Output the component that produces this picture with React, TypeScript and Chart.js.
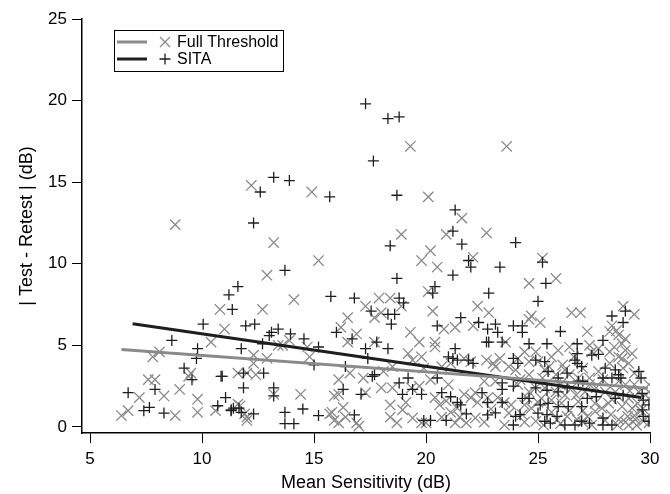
import React, { useEffect, useRef } from "react";
import { Chart, registerables } from "chart.js";

Chart.register(...registerables);

// Full Threshold: [mean sensitivity (dB), |test - retest| (dB)]
const fullThresholdPoints: number[][] = [
  [19.3, 17.2], [23.6, 17.2], [20.1, 14.1], [21.6, 12.8], [18.9, 11.8], [20.9, 11.8], [22.7, 11.9],
  [12.2, 14.8], [14.9, 14.4], [8.8, 12.4], [13.2, 11.3],
  [6.4, 0.7], [6.7, 1.0], [7.2, 1.8], [7.6, 2.9], [7.9, 2.9], [7.8, 4.3], [8.1, 4.6], [8.3, 1.9],
  [8.8, 0.7], [9.0, 2.3], [9.4, 3.1], [9.5, 3.3], [9.8, 1.7], [9.8, 0.9], [10.4, 5.2], [10.6, 1.0],
  [10.8, 7.2], [11.0, 6.0], [11.6, 3.3], [11.7, 1.3], [11.9, 0.8], [12.0, 0.4], [12.3, 4.4], [12.3, 3.9],
  [12.4, 3.2], [12.7, 7.2], [12.9, 4.2], [12.9, 9.3], [13.2, 2.0], [13.4, 5.0], [13.6, 5.0], [13.9, 5.3],
  [14.1, 7.8], [14.4, 2.0], [14.7, 4.9], [14.8, 4.3], [15.2, 10.2], [15.7, 0.8], [15.9, 0.4], [12.0, 3.3],
  [11.6, 1.4], [12.0, 0.6],
  [17.3, 7.4], [17.7, 6.7], [16.5, 6.7], [16.2, 6.1], [16.9, 5.7], [16.5, 5.2], [17.7, 5.2], [16.1, 2.9],
  [16.6, 3.3], [17.2, 3.0], [15.9, 1.9], [16.1, 2.0], [17.3, 2.1], [16.3, 1.2], [16.4, 0.6], [15.8, 0.9],
  [16.1, 0.25], [16.9, 0.25], [17.0, 0.05],
  [19.8, 10.2], [20.2, 10.8], [20.5, 9.8], [22.1, 10.4], [20.1, 8.3], [17.9, 7.9], [18.4, 7.9], [18.9, 7.4],
  [18.0, 7.0], [20.3, 7.1], [22.3, 7.4], [22.8, 7.0], [20.8, 6.0], [21.3, 6.1], [22.1, 6.2], [19.3, 5.8],
  [19.7, 5.2], [20.4, 5.2], [20.4, 4.9], [23.55, 5.2], [19.2, 4.5], [19.4, 4.1], [21.7, 4.2], [22.0, 4.0],
  [23.3, 4.2], [22.7, 4.1], [23.0, 3.9], [19.8, 4.3], [18.5, 3.7], [18.1, 3.4], [19.9, 3.6], [20.7, 3.7],
  [21.1, 3.9], [23.1, 3.7], [23.7, 3.7], [24.0, 3.5], [18.0, 2.4], [18.5, 2.4], [19.35, 2.4], [19.7, 2.5],
  [18.4, 1.35], [19.1, 1.5], [18.95, 1.05], [20.4, 1.8], [20.6, 1.35], [21.1, 0.9], [21.5, 0.6], [21.4, 1.15],
  [18.4, 0.6], [18.7, 0.25], [19.4, 0.55], [19.8, 0.25], [20.0, 0.25], [20.7, 0.6], [21.3, 0.25], [22.0, 1.8],
  [22.3, 1.5], [21.7, 2.0], [22.2, 2.1], [22.6, 2.8], [23.1, 2.8], [22.75, 1.8], [23.2, 1.8], [23.5, 1.5],
  [23.8, 1.35], [23.7, 0.85], [22.2, 0.55], [21.8, 0.25], [22.6, 0.3], [23.5, 0.12],
  [25.2, 10.35], [24.6, 8.8], [25.8, 9.1], [24.7, 6.8], [25.1, 6.4], [24.6, 6.6], [26.5, 7.0], [26.9, 7.0],
  [27.2, 5.85], [28.8, 7.4], [29.3, 6.9], [28.2, 5.85], [28.6, 5.65], [28.75, 5.1], [24.4, 4.6], [24.9, 4.6],
  [25.9, 4.7], [26.4, 4.9], [27.3, 5.0], [27.4, 4.6], [27.7, 4.8], [28.75, 4.2], [29.05, 3.9], [28.2, 4.6],
  [24.1, 4.2], [24.6, 4.0], [25.0, 4.0], [25.5, 3.7], [26.1, 3.8], [26.2, 3.5], [27.7, 3.4], [27.3, 3.0],
  [26.8, 3.0], [26.4, 3.2], [25.8, 3.2], [25.2, 3.0], [29.95, 2.6], [29.95, 2.15], [29.95, 1.75], [28.9, 2.6],
  [29.3, 2.6], [29.5, 2.15],
  [24.1, 2.6], [24.6, 2.15], [24.9, 2.4], [25.3, 2.4], [25.8, 2.15], [26.2, 1.95], [26.7, 1.95], [27.1, 2.15],
  [27.6, 2.4], [28.0, 2.15], [28.45, 2.15], [24.3, 0.75], [24.9, 0.35], [25.25, 0.12], [25.85, 0.45],
  [26.3, 0.65], [26.75, 0.45], [27.2, 0.65], [27.55, 0.95], [27.85, 1.15], [28.25, 0.75], [28.6, 0.45],
  [29.0, 0.65], [29.05, 0.12], [29.35, 0.45], [29.7, 0.35], [29.95, 0.75], [29.95, 0.25], [27.4, 0.12],
  [28.55, 0.12], [24.7, 1.15], [24.4, 1.35], [26.05, 1.45], [26.8, 1.55], [27.55, 1.45], [28.15, 1.45],
  [28.75, 1.25], [29.2, 1.15], [29.45, 1.45], [29.05, 1.75], [28.6, 1.85], [25.15, 1.75], [25.6, 1.65],
  [28.3, 6.2], [28.5, 5.9], [28.9, 5.4], [28.4, 4.9], [28.9, 4.7], [28.6, 4.3], [29.2, 4.5], [28.2, 3.9],
  [28.8, 3.6], [29.3, 3.3], [27.9, 2.9], [28.6, 2.8], [29.1, 2.2], [28.3, 1.7], [29.6, 1.0], [29.3, 0.7],
  [27.0, 3.6], [26.6, 4.3], [25.6, 4.3], [25.3, 3.5], [24.6, 3.2], [24.2, 2.9], [26.0, 2.6], [26.5, 2.4],
  [27.3, 2.6], [24.5, 1.8], [25.0, 1.5], [26.4, 1.0], [27.0, 1.0], [25.6, 0.9], [24.4, 0.3], [26.0, 0.2],
  [27.0, 0.3], [28.0, 0.4], [28.9, 0.3], [29.4, 0.1], [21.0, 2.6], [20.2, 2.9], [22.9, 1.1], [20.9, 1.6]
];

// SITA: [mean sensitivity (dB), |test - retest| (dB)]
const sitaPoints: number[][] = [
  [17.3, 19.8], [18.3, 18.9], [18.8, 19.0], [17.65, 16.3], [18.7, 14.2], [21.3, 13.3], [21.2, 12.0],
  [21.6, 11.2], [24.0, 11.3], [18.4, 11.1], [12.6, 14.4], [13.2, 15.3], [13.9, 15.1], [15.7, 14.1], [12.3, 12.5],
  [6.7, 2.1], [7.4, 1.0], [7.65, 1.2], [7.9, 2.3], [8.3, 0.85], [8.65, 5.3], [9.2, 3.6], [9.55, 2.9],
  [9.8, 4.8], [9.75, 4.2], [10.05, 6.3], [10.7, 1.3], [10.85, 3.1], [11.05, 1.8], [11.2, 8.1], [11.35, 7.2],
  [11.6, 8.6], [11.3, 1.0], [11.75, 4.8], [11.85, 2.4], [11.85, 3.3], [11.75, 0.9], [11.95, 6.2], [12.35, 6.3],
  [12.3, 0.8], [12.7, 5.1], [12.75, 3.3], [13.0, 5.6], [13.1, 5.8], [13.2, 2.4], [13.2, 1.9], [13.4, 6.0],
  [13.7, 9.6], [13.7, 0.9], [13.7, 0.2], [14.1, 0.2], [13.95, 5.7], [14.5, 1.1], [14.55, 5.4], [15.2, 4.9],
  [15.0, 3.8], [15.2, 0.7], [15.75, 8.0], [11.4, 1.15], [11.65, 1.15], [10.9, 3.1], [11.3, 1.05],
  [16.8, 7.9], [17.55, 7.1], [16.0, 5.8], [16.7, 5.4], [17.3, 4.8], [17.4, 4.2], [16.4, 3.7], [17.6, 3.1],
  [16.3, 2.3], [17.1, 2.0], [16.8, 0.74],
  [21.9, 10.2], [22.0, 9.8], [23.3, 9.8], [18.7, 9.1], [21.2, 9.3], [20.4, 8.6], [20.3, 8.2], [22.8, 8.2],
  [18.8, 7.9], [19.0, 7.6], [18.3, 6.9], [18.6, 6.9], [21.55, 6.7], [18.45, 6.3], [20.5, 6.2], [22.35, 6.4],
  [22.75, 6.0], [23.1, 6.3], [23.2, 5.8], [22.7, 5.2], [22.8, 5.2], [23.4, 5.2], [23.9, 6.2], [17.8, 5.2],
  [18.3, 4.8], [21.3, 4.8], [21.0, 4.3], [21.2, 4.2], [21.4, 4.1], [21.9, 4.1], [22.1, 3.9], [23.9, 4.2],
  [17.7, 3.2], [19.2, 3.0], [20.5, 3.0], [18.8, 2.7], [18.95, 2.0], [19.4, 2.3], [19.8, 2.0], [20.7, 2.1],
  [21.1, 1.85], [21.4, 1.5], [21.55, 1.35], [19.9, 0.4], [20.2, 0.4], [20.9, 0.4], [22.5, 2.1], [23.4, 2.7],
  [23.4, 2.3], [23.9, 2.5], [22.75, 1.5], [22.75, 0.74], [23.1, 0.86], [23.4, 1.5], [21.8, 0.8], [23.9, 0.12],
  [25.2, 10.1], [25.35, 8.8], [25.0, 7.7], [24.3, 6.2], [24.3, 5.8], [26.0, 5.85], [28.3, 6.8], [28.8, 6.4],
  [28.9, 7.1], [27.9, 5.3], [26.75, 5.1], [24.6, 5.1], [25.4, 5.1], [26.75, 4.5], [26.65, 4.1], [26.75, 3.9],
  [26.95, 3.7], [27.4, 4.4], [27.7, 4.45], [24.1, 3.9], [24.9, 4.1], [25.3, 4.0], [28.0, 3.6], [28.45, 3.5],
  [28.6, 3.2], [28.7, 3.0], [29.5, 3.4], [29.6, 3.0], [25.45, 3.4], [26.3, 3.3], [25.9, 3.0], [26.8, 2.8],
  [27.0, 2.8], [27.9, 3.0], [28.3, 3.0],
  [24.9, 2.4], [25.4, 2.25], [25.9, 2.15], [26.3, 2.4], [24.3, 1.75], [24.6, 1.75], [27.2, 1.75], [27.6, 1.85],
  [28.45, 1.75], [28.8, 1.95], [29.65, 2.05], [29.7, 1.65], [29.95, 1.35], [25.1, 1.35], [25.45, 1.45],
  [25.9, 1.25], [26.35, 1.25], [26.95, 1.25], [25.0, 0.85], [25.4, 0.75], [25.85, 0.65], [25.3, 0.35],
  [25.55, 0.23], [26.2, 0.12], [26.65, 0.12], [26.95, 0.35], [27.3, 0.23], [27.9, 0.55], [27.9, 0.12],
  [28.3, 0.12], [29.65, 1.05], [29.7, 0.65], [29.95, 0.35], [24.0, 0.65], [24.2, 0.75]
];

// Regression lines (start and end)
const fullThresholdFit: number[][] = [[6.4, 4.74], [29.9, 2.38]];
const sitaFit: number[][] = [[6.9, 6.32], [29.6, 1.8]];

const xTicks = [5, 10, 15, 20, 25, 30];
const yTicks = [0, 5, 10, 15, 20, 25];

const FONT = "'Liberation Sans', Arial, Helvetica, sans-serif";
const GRAY = "#8a8a8a";
const BLACK = "#1e1e1e";

const toXY = (arr: number[][]) => arr.map(([x, y]) => ({ x, y }));

const legendPlugin = {
  id: "customLegend",
  afterDraw(chart: any) {
    const ctx = chart.ctx as CanvasRenderingContext2D;
    ctx.save();
    ctx.strokeStyle = "#000";
    ctx.lineWidth = 1;
    ctx.strokeRect(114.5, 30.5, 169, 41);
    const rows = [
      { y: 42, color: GRAY, mark: "x", text: "Full Threshold" },
      { y: 59, color: BLACK, mark: "+", text: "SITA" },
    ];
    rows.forEach((r) => {
      ctx.strokeStyle = r.color;
      ctx.lineWidth = 3;
      ctx.beginPath();
      ctx.moveTo(117, r.y);
      ctx.lineTo(147, r.y);
      ctx.stroke();
      ctx.lineWidth = 1.3;
      ctx.beginPath();
      const cx = 165;
      if (r.mark === "x") {
        ctx.moveTo(cx - 5, r.y - 5);
        ctx.lineTo(cx + 5, r.y + 5);
        ctx.moveTo(cx - 5, r.y + 5);
        ctx.lineTo(cx + 5, r.y - 5);
      } else {
        ctx.moveTo(cx - 5.5, r.y);
        ctx.lineTo(cx + 5.5, r.y);
        ctx.moveTo(cx, r.y - 5.5);
        ctx.lineTo(cx, r.y + 5.5);
      }
      ctx.stroke();
      ctx.fillStyle = "#000";
      ctx.font = `16px ${FONT}`;
      ctx.textBaseline = "middle";
      ctx.textAlign = "left";
      ctx.fillText(r.text, 177, r.y + 0.5);
    });
    ctx.restore();
  },
};

export default function App() {
  const ref = useRef<HTMLCanvasElement | null>(null);

  useEffect(() => {
    document.body.style.margin = "0";
    const canvas = ref.current;
    if (!canvas) return;
    const chart = new Chart(canvas, {
      type: "scatter",
      data: {
        datasets: [
          {
            label: "Full Threshold fit",
            data: toXY(fullThresholdFit),
            showLine: true,
            borderColor: GRAY,
            borderWidth: 3,
            pointRadius: 0,
            order: 0,
          },
          {
            label: "SITA fit",
            data: toXY(sitaFit),
            showLine: true,
            borderColor: BLACK,
            borderWidth: 3,
            pointRadius: 0,
            order: 0,
          },
          {
            label: "SITA",
            data: toXY(sitaPoints),
            pointStyle: "cross",
            pointRadius: 5.5,
            pointBorderColor: BLACK,
            borderColor: BLACK,
            pointBorderWidth: 1.3,
            showLine: false,
            order: 1,
          },
          {
            label: "Full Threshold",
            data: toXY(fullThresholdPoints),
            pointStyle: "crossRot",
            pointRadius: 7.3,
            pointBorderColor: GRAY,
            borderColor: GRAY,
            pointBorderWidth: 1.3,
            showLine: false,
            order: 2,
          },
        ],
      },
      options: {
        animation: false,
        responsive: false,
        devicePixelRatio: 1,
        layout: { padding: { left: 0, right: 20, top: 19, bottom: 0 } },
        plugins: { legend: { display: false }, tooltip: { enabled: false } },
        scales: {
          x: {
            type: "linear",
            min: 4.64,
            max: 30,
            afterBuildTicks: (s: any) => {
              s.ticks = xTicks.map((v) => ({ value: v }));
            },
            afterFit: (s: any) => {
              s.height = 61;
            },
            grid: { display: true, drawOnChartArea: false, drawTicks: true, tickLength: 10, color: "#000", lineWidth: 1 },
            border: { display: true, color: "#000", width: 1.5 },
            ticks: { color: "#000", font: { family: FONT, size: 17 }, padding: 6, maxRotation: 0 },
            title: {
              display: true,
              text: "Mean Sensitivity (dB)",
              color: "#000",
              font: { family: FONT, size: 18 },
              padding: { top: 0, bottom: 0 },
            },
          },
          y: {
            type: "linear",
            min: -0.37,
            max: 25,
            afterBuildTicks: (s: any) => {
              s.ticks = yTicks.map((v) => ({ value: v }));
            },
            afterFit: (s: any) => {
              s.width = 82;
            },
            grid: { display: true, drawOnChartArea: false, drawTicks: true, tickLength: 10, color: "#000", lineWidth: 1 },
            border: { display: true, color: "#000", width: 1.5 },
            ticks: { color: "#000", font: { family: FONT, size: 17 }, padding: 5 },
            title: {
              display: true,
              text: "| Test - Retest | (dB)",
              color: "#000",
              font: { family: FONT, size: 18 },
              padding: { top: 16, bottom: 0 },
            },
          },
        },
      },
      plugins: [legendPlugin],
    } as any);
    return () => chart.destroy();
  }, []);

  return (
    <div style={{ position: "fixed", left: 0, top: 0, width: 670, height: 494, background: "#fff" }}>
      <canvas ref={ref} width={670} height={494} style={{ width: 670, height: 494 }} />
    </div>
  );
}
